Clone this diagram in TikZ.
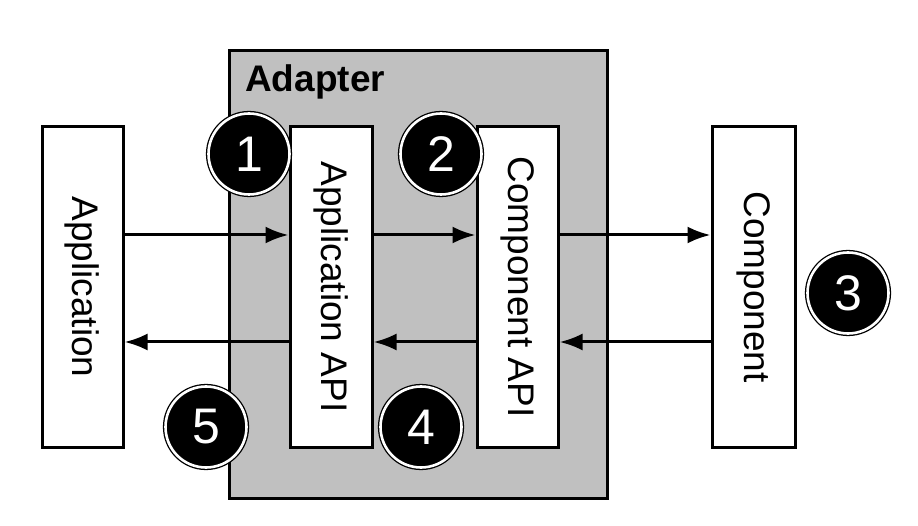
\documentclass[tikz,border=0pt]{standalone}
\usepackage{fontspec}
\setmainfont{Liberation Sans}
\usetikzlibrary{arrows.meta}
\definecolor{adgray}{RGB}{192,192,192}
\tikzset{
  box/.style={draw=black, line width=3pt, fill=white, minimum width=81pt, minimum height=320pt, inner sep=0pt, font=\fontsize{37}{40}\selectfont},
  num/.style={circle, draw=black, double=white, double distance=2.6pt, line width=1.3pt, fill=black, minimum size=81pt, inner sep=0pt, text=white, font=\fontsize{50}{54}\selectfont},
  arr/.style={line width=3pt, -{Latex[length=23pt,width=17pt]}}
}
\begin{document}
\begin{tikzpicture}[x=1pt,y=-1pt]
\useasboundingbox (0,0) rectangle (918,526);
\node[draw=black, line width=3pt, fill=adgray, minimum width=378pt, minimum height=447pt, inner sep=0pt] (adapter) at (418,274.5) {};
\node[anchor=base west, font=\bfseries\fontsize{37}{40}\selectfont, inner sep=0pt] (adlabel) at (245,92) {Adapter};
\node[box] (app) at (82.5,287) {\rotatebox{-90}{Application}};
\node[box, minimum width=82pt] (aapi) at (331,287) {\rotatebox{-90}{Application API}};
\node[box] (capi) at (517.5,287) {\rotatebox{-90}{Component API}};
\node[box, minimum width=83pt] (comp) at (753.5,287) {\rotatebox{-90}{Component}};
\coordinate (ytop) at (0,235);
\coordinate (ybot) at (0,342);
\draw[arr] (app.east |- ytop) -- (aapi.west |- ytop);
\draw[arr] (aapi.east |- ytop) -- (capi.west |- ytop);
\draw[arr] (capi.east |- ytop) -- (comp.west |- ytop);
\draw[arr] (comp.west |- ybot) -- (capi.east |- ybot);
\draw[arr] (capi.west |- ybot) -- (aapi.east |- ybot);
\draw[arr] (aapi.west |- ybot) -- (app.east |- ybot);
\node[num] (n1) at (249,154) {1};
\node[num] (n2) at (441,154) {2};
\node[num] (n3) at (848,293) {3};
\node[num] (n4) at (421,427) {4};
\node[num] (n5) at (206,427) {5};
\end{tikzpicture}
\end{document}
